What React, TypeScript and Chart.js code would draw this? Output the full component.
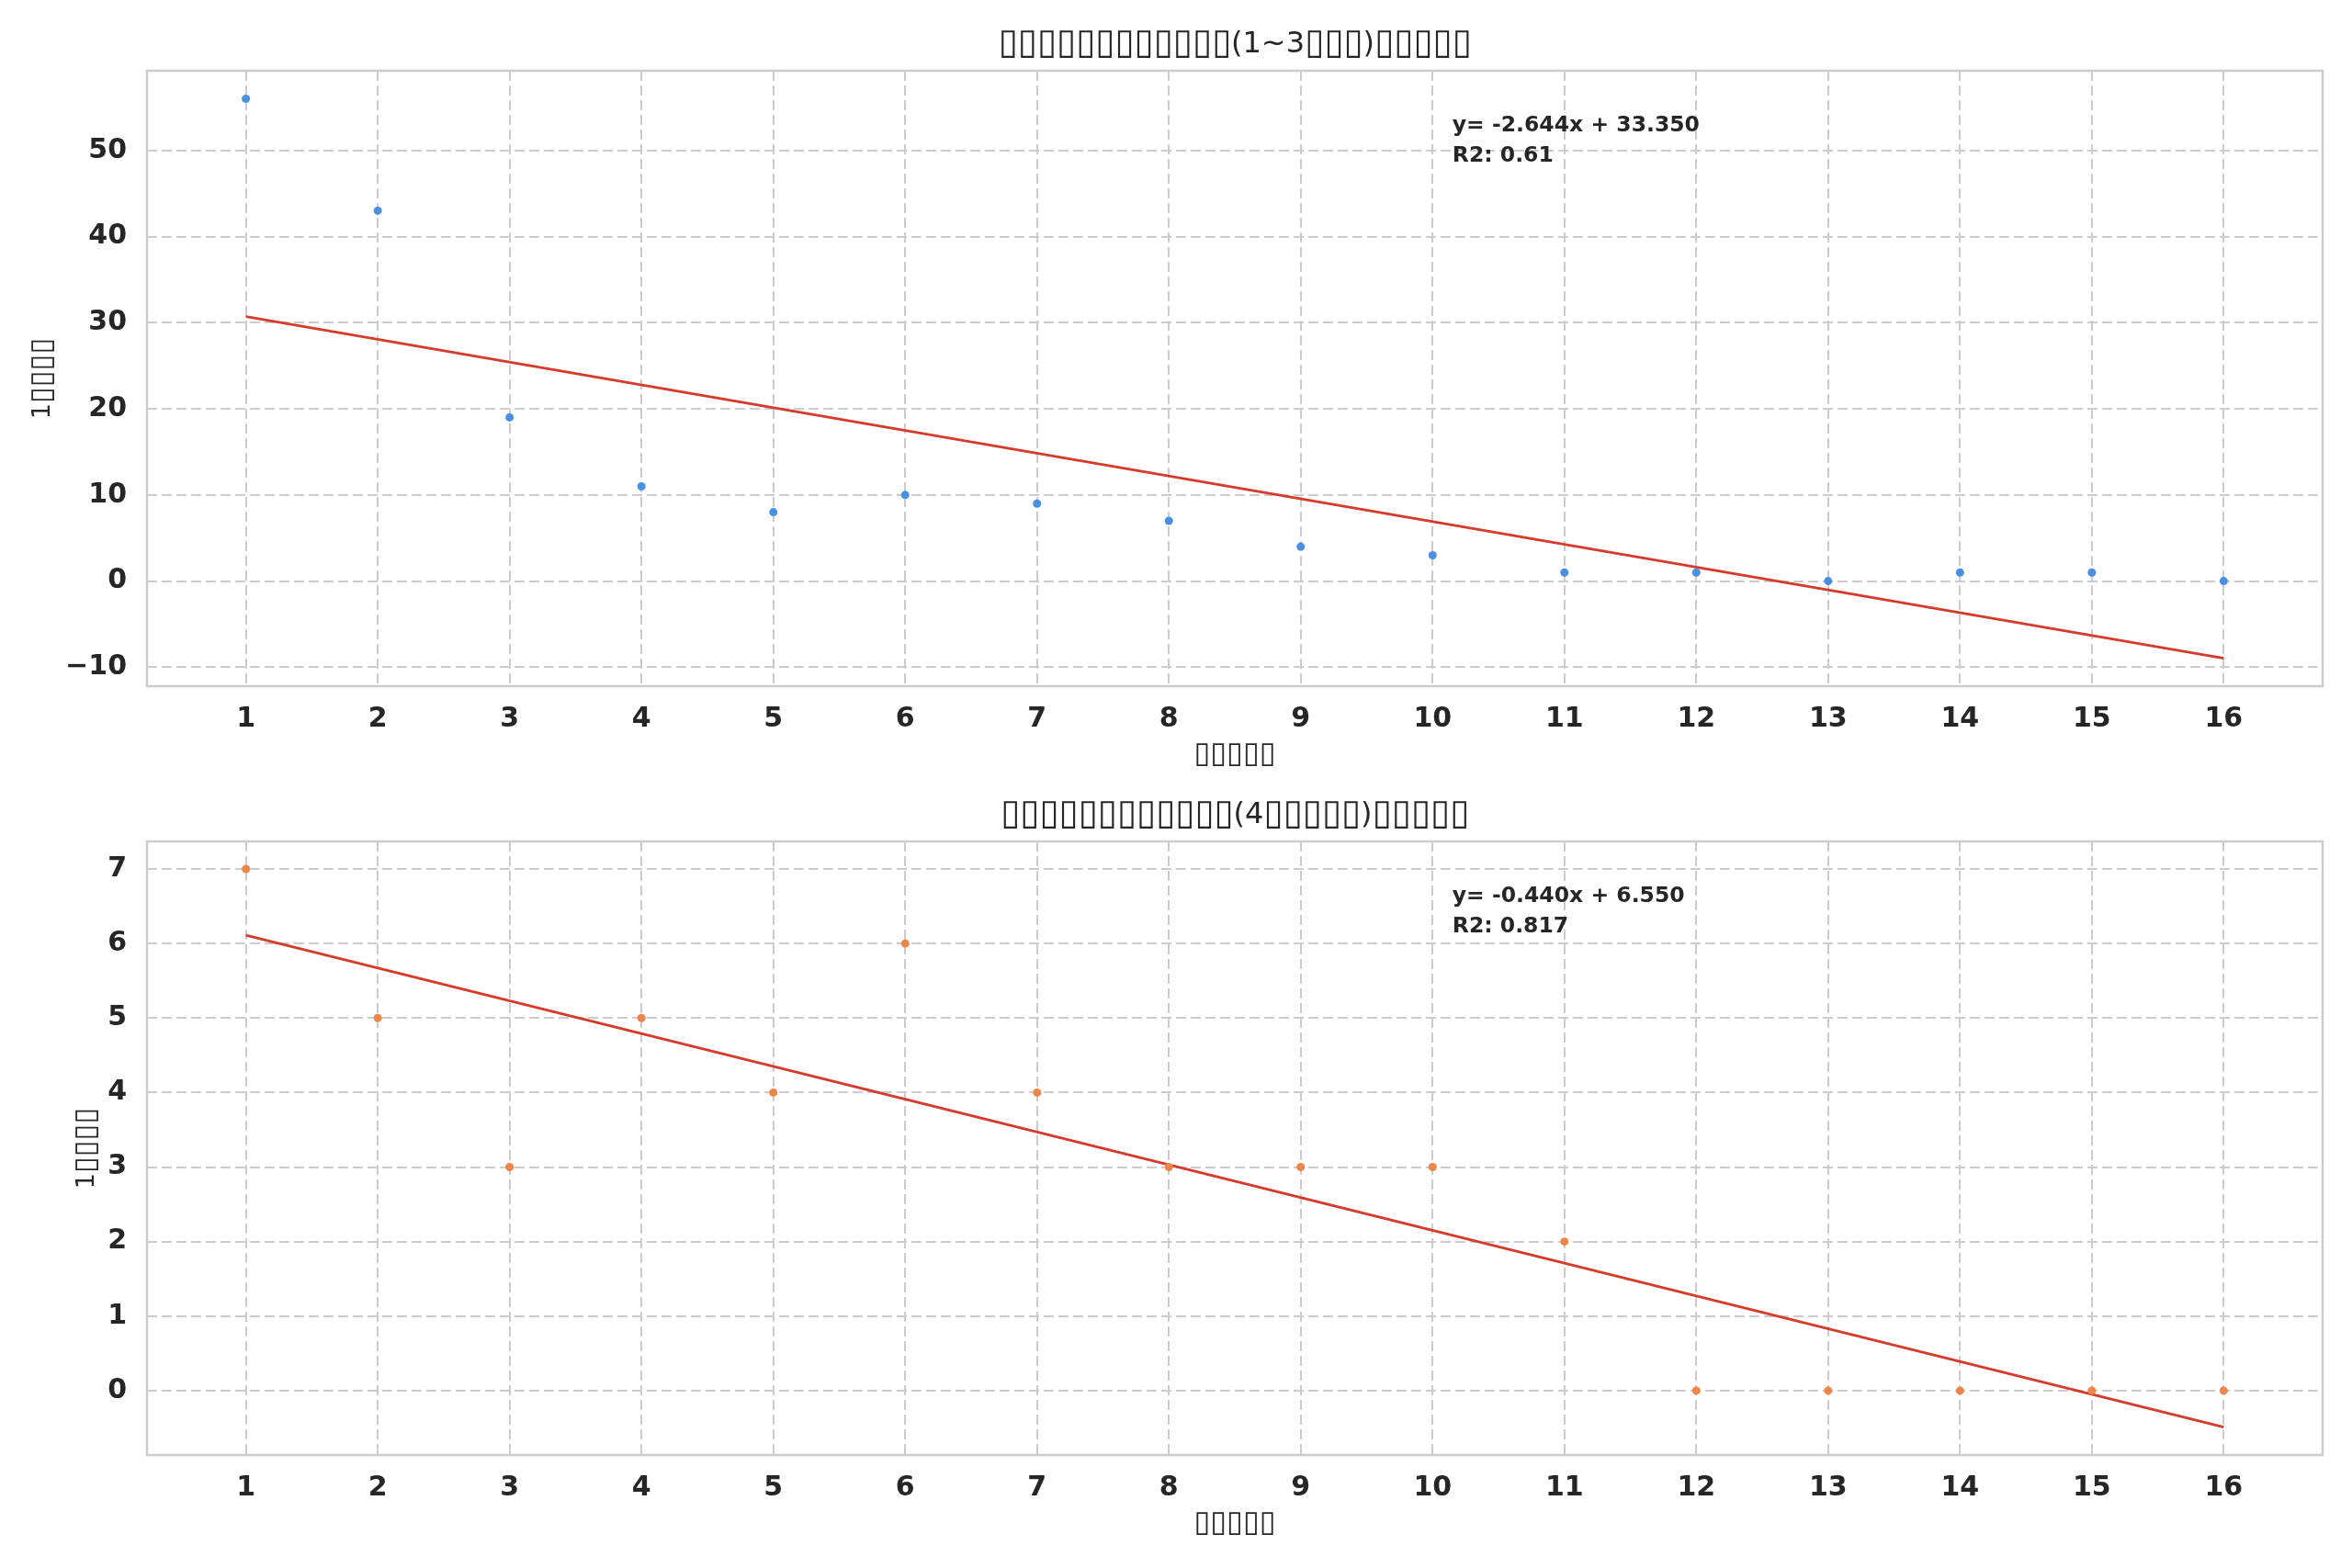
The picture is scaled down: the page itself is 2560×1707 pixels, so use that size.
import { useEffect, useRef } from "react";
import { Chart, registerables } from "chart.js";

Chart.register(...registerables);

// days since start (x), one value per day
const days = [1, 2, 3, 4, 5, 6, 7, 8, 9, 10, 11, 12, 13, 14, 15, 16];
const earlyCounts = [56, 43, 19, 11, 8, 10, 9, 7, 4, 3, 1, 1, 0, 1, 1, 0];
const lateCounts = [7, 5, 3, 5, 4, 6, 4, 3, 3, 3, 2, 0, 0, 0, 0, 0];

// regression coefficients as printed on the chart
const earlyFit = { slope: -2.644, intercept: 33.35 };
const lateFit = { slope: -0.44, intercept: 6.55 };
const earlyFitText = ["y= -2.644x + 33.350", "R2: 0.61"];
const lateFitText = ["y= -0.440x + 6.550", "R2: 0.817"];

// ticks and axis ranges
const xTicks = days;
const xRange = [0.25, 16.75];
const earlyYTicks = [-10, 0, 10, 20, 30, 40, 50];
const earlyYRange = [-12.2, 59.25];
const lateYTicks = [0, 1, 2, 3, 4, 5, 6, 7];
const lateYRange = [-0.864, 7.37];

// labels (glyphs missing in the source render, kept as boxes)
const earlyTitle = "▯▯▯▯▯▯▯▯▯▯▯▯(1~3▯▯▯)▯▯▯▯▯";
const lateTitle = "▯▯▯▯▯▯▯▯▯▯▯▯(4▯▯▯▯▯)▯▯▯▯▯";
const xAxisTitle = "▯▯▯▯▯";
const yAxisTitle = "1▯▯▯▯";

const FONT = "'DejaVu Sans', sans-serif";
const TEXT = "#262626";
const GRID = "#cccccc";
const FIT_RED = "#d63a2a";
const BOX = "▯";

// draws text centred on (cx, cy); box glyphs are drawn a bit larger
function drawLabel(ctx: CanvasRenderingContext2D, text: string, cx: number, cy: number, size: number) {
  const chars = Array.from(text);
  const fontFor = (ch: string) => `${ch === BOX ? size * 1.2 : size}px ${FONT}`;
  const widths = chars.map((ch) => {
    ctx.font = fontFor(ch);
    return ctx.measureText(ch).width;
  });
  const total = widths.reduce((s, w) => s + w, 0);
  let x = cx - total / 2;
  ctx.textAlign = "left";
  ctx.textBaseline = "middle";
  chars.forEach((ch, i) => {
    ctx.font = fontFor(ch);
    ctx.fillText(ch, x, cy);
    x += widths[i];
  });
}

type PanelProps = {
  title: string;
  values: number[];
  fit: { slope: number; intercept: number };
  fitText: string[];
  yTicks: number[];
  yRange: number[];
  pointColor: string;
  top: number;
  height: number;
  plotTop: number;
  plotBottom: number;
  yTitleX: number;
};

function Panel(props: PanelProps) {
  const canvasRef = useRef<HTMLCanvasElement | null>(null);

  useEffect(() => {
    if (!canvasRef.current) return;
    const p = props;
    const first = days[0];
    const last = days[days.length - 1];
    const xAxisHeight = 60;

    const decorations = {
      id: "decorations",
      afterDraw(chart: any) {
        const { ctx, chartArea: a } = chart;
        const cx = (a.left + a.right) / 2;
        ctx.save();
        ctx.strokeStyle = GRID;
        ctx.lineWidth = 2.5;
        ctx.strokeRect(a.left, a.top, a.right - a.left, a.bottom - a.top);

        ctx.fillStyle = TEXT;
        drawLabel(ctx, p.title, cx, a.top - 28.5, 32);
        drawLabel(ctx, xAxisTitle, cx, a.bottom + 75, 27);

        ctx.save();
        ctx.translate(p.yTitleX, (a.top + a.bottom) / 2);
        ctx.rotate(-Math.PI / 2);
        drawLabel(ctx, yAxisTitle, 0, 0, 27);
        ctx.restore();

        // fit annotation at 60% of the axes width
        ctx.textAlign = "left";
        ctx.textBaseline = "middle";
        ctx.font = `bold 23.5px ${FONT}`;
        const tx = a.left + 0.6 * (a.right - a.left);
        ctx.fillText(p.fitText[0], tx, a.top + 60);
        ctx.fillText(p.fitText[1], tx, a.top + 93);
        ctx.restore();
      },
    };

    const chart = new Chart(canvasRef.current, {
      type: "scatter",
      data: {
        datasets: [
          {
            data: days.map((d, i) => ({ x: d, y: p.values[i] })),
            backgroundColor: p.pointColor,
            borderWidth: 0,
            pointRadius: 4.5,
          },
          {
            data: [
              { x: first, y: p.fit.intercept + p.fit.slope * first },
              { x: last, y: p.fit.intercept + p.fit.slope * last },
            ],
            showLine: true,
            borderColor: FIT_RED,
            borderWidth: 2.8,
            pointRadius: 0,
          },
        ],
      },
      options: {
        animation: false,
        responsive: true,
        maintainAspectRatio: false,
        devicePixelRatio: 1,
        layout: {
          padding: {
            top: p.plotTop,
            left: 0,
            right: 32,
            bottom: p.height - p.plotBottom - xAxisHeight,
          },
        },
        plugins: {
          legend: { display: false },
          tooltip: { enabled: false },
        },
        scales: {
          x: {
            type: "linear",
            min: xRange[0],
            max: xRange[1],
            afterBuildTicks: (s: any) => {
              s.ticks = xTicks.map((v) => ({ value: v }));
            },
            afterFit: (s: any) => {
              s.height = xAxisHeight;
            },
            grid: { color: GRID, lineWidth: 2, drawTicks: false },
            border: { display: false, dash: [11, 5] },
            ticks: {
              padding: 18,
              color: TEXT,
              font: { family: FONT, size: 30, weight: "bold" },
              maxRotation: 0,
              callback: (v: any) => String(v),
            },
          },
          y: {
            type: "linear",
            min: p.yRange[0],
            max: p.yRange[1],
            afterBuildTicks: (s: any) => {
              s.ticks = p.yTicks.map((v) => ({ value: v }));
            },
            afterFit: (s: any) => {
              s.width = 160;
            },
            grid: { color: GRID, lineWidth: 2, drawTicks: false },
            border: { display: false, dash: [11, 5] },
            ticks: {
              padding: 22,
              color: TEXT,
              font: { family: FONT, size: 30, weight: "bold" },
              callback: (v: any) => (v < 0 ? "\u2212" + Math.abs(v) : String(v)),
            },
          },
        },
      },
      plugins: [decorations],
    } as any);

    return () => chart.destroy();
  }, []);

  return (
    <div
      style={{
        position: "absolute",
        left: 0,
        top: props.top,
        width: 2560,
        height: props.height,
      }}
    >
      <canvas ref={canvasRef} />
    </div>
  );
}

export default function App() {
  return (
    <div
      style={{
        position: "absolute",
        left: 0,
        top: 0,
        width: 2560,
        height: 1707,
        background: "#ffffff",
        overflow: "hidden",
      }}
    >
      <Panel
        title={earlyTitle}
        values={earlyCounts}
        fit={earlyFit}
        fitText={earlyFitText}
        yTicks={earlyYTicks}
        yRange={earlyYRange}
        pointColor="#4a90e2"
        top={0}
        height={850}
        plotTop={77}
        plotBottom={747}
        yTitleX={47}
      />
      <Panel
        title={lateTitle}
        values={lateCounts}
        fit={lateFit}
        fitText={lateFitText}
        yTicks={lateYTicks}
        yRange={lateYRange}
        pointColor="#ee854a"
        top={850}
        height={857}
        plotTop={66}
        plotBottom={734}
        yTitleX={95}
      />
    </div>
  );
}
